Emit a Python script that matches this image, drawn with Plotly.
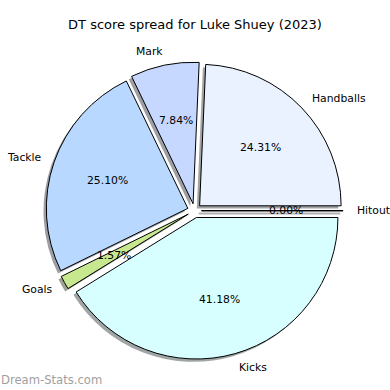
import math
import plotly.graph_objects as go

labels = ["Hitout", "Handballs", "Mark", "Tackle", "Goals", "Kicks"]
values = [0, 62, 20, 64, 4, 105]
colors = ["#f2f7ff", "#eaf2ff", "#c6d8ff", "#b8d8ff", "#c8e890", "#d8ffff"]
pulls = [0.05, 0.05, 0.05, 0.05, 0.05, 0.05]
title_text = "DT score spread for Luke Shuey (2023)"
watermark = "Dream-Stats.com"

W = H = 390
CX, CY, R = 194.5, 210.7, 141.5  # pie centre (px from top-left) and radius
side = 2 * R * (1 + max(pulls))
xd = [(CX - side / 2) / W, (CX + side / 2) / W]
yd = [(H - CY - side / 2) / H, (H - CY + side / 2) / H]
sh = 2.8  # shadow offset px
xs = [xd[0] - sh / W, xd[1] - sh / W]
ys = [yd[0] - sh / H, yd[1] - sh / H]


def shadow(c):
    c = c.lstrip("#")
    r, g, b = (int(c[i:i + 2], 16) for i in (0, 2, 4))
    return f"rgba({int(r*0.3)},{int(g*0.3)},{int(b*0.3)},0.5)"


fig = go.Figure()
total = sum(values)
angles = []
a = 0.0
for v in values:
    a0 = a
    a += 360.0 * v / total
    angles.append((a0, a))

# zero wedges drawn as lines
for lab, v, (a0, a1), p in zip(labels, values, angles, pulls):
    if v == 0:
        th = math.radians(a0)
        ox, oy = p * math.cos(th), p * math.sin(th)
        ex, ey = ox + math.cos(th), oy + math.sin(th)
        d = sh / R
        fig.add_trace(go.Scatter(x=[ox - d, ex - d], y=[oy - d, ey - d], mode="lines",
                                 line=dict(color="rgba(0,0,0,0.3)", width=2),
                                 xaxis="x", yaxis="y", hoverinfo="skip", showlegend=False))
        fig.add_trace(go.Scatter(x=[ox, ex], y=[oy, ey], mode="lines",
                                 line=dict(color="black", width=1),
                                 xaxis="x", yaxis="y", hoverinfo="skip", showlegend=False))

fig.add_trace(go.Pie(labels=labels, values=values, sort=False, direction="counterclockwise",
                     rotation=90, pull=pulls, textinfo="none", hoverinfo="skip",
                     marker=dict(colors=[shadow(c) for c in colors], line=dict(width=0)),
                     domain=dict(x=xs, y=ys), showlegend=False))
fig.add_trace(go.Pie(labels=labels, values=values, sort=False, direction="counterclockwise",
                     rotation=90, pull=pulls, textinfo="none", hoverinfo="skip",
                     marker=dict(colors=colors, line=dict(color="black", width=1)),
                     domain=dict(x=xd, y=yd), showlegend=False))

anns = []
for lab, v, (a0, a1), p in zip(labels, values, angles, pulls):
    th = math.radians((a0 + a1) / 2)
    ox, oy = p * math.cos(th), p * math.sin(th)
    px, py = ox + 0.6 * math.cos(th), oy + 0.6 * math.sin(th)
    lx, ly = ox + 1.1 * math.cos(th), oy + 1.1 * math.sin(th)
    anns.append(dict(x=px, y=py, xref="x", yref="y", text=f"{100*v/total:.2f}%",
                     showarrow=False, xanchor="center", yanchor="middle",
                     borderpad=0, borderwidth=0,
                     font=dict(family="DejaVu Sans", size=10.8, color="black")))
    anns.append(dict(x=lx, y=ly, xref="x", yref="y", text=lab, showarrow=False,
                     xanchor="left" if lx > 0 else "right", yanchor="middle",
                     borderpad=0, borderwidth=0, xshift=0 if lx > 0 else 1,
                     font=dict(family="DejaVu Sans", size=10.8, color="black")))
anns.append(dict(x=0, y=(H - 380) / H, xref="paper", yref="paper", text=watermark,
                 showarrow=False, xanchor="left", yanchor="middle", borderpad=0,
                 font=dict(family="DejaVu Sans", size=11.6, color="#a0a0a0")))

fig.update_layout(
    width=W, height=H, margin=dict(l=0, r=0, t=0, b=0),
    paper_bgcolor="white", plot_bgcolor="rgba(0,0,0,0)",
    title=dict(text=title_text, x=0.5, xanchor="center", y=1 - 24 / H, yanchor="middle",
               font=dict(family="DejaVu Sans", size=13, color="black")),
    xaxis=dict(domain=[0, 1], range=[-CX / R, (W - CX) / R], visible=False, fixedrange=True),
    yaxis=dict(domain=[0, 1], range=[-(H - CY) / R, CY / R], visible=False, fixedrange=True),
    annotations=anns, showlegend=False,
)
fig.write_html("out.html", config={"displayModeBar": False},
               post_script="document.body.style.margin='0';")
